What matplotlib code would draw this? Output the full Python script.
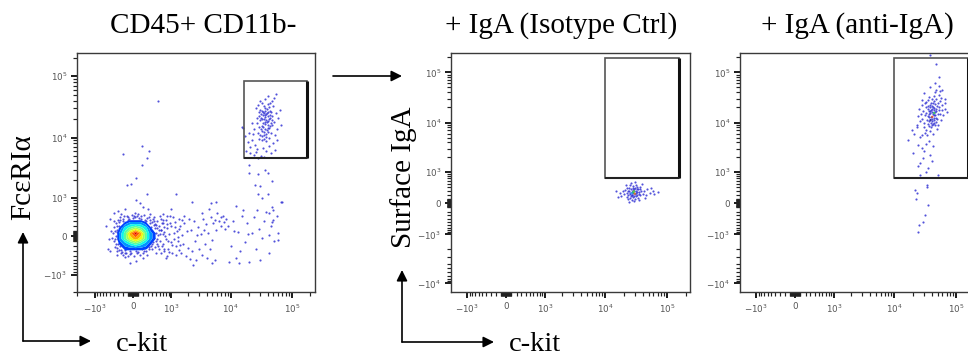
import matplotlib
matplotlib.use("Agg")
import matplotlib.pyplot as plt
import numpy as np
from matplotlib.patches import Rectangle, FancyArrowPatch

# ---------------------------------------------------------------- data
# Panel 1: CD45+ CD11b- cells, (c-kit, FceRIa) intensities
mast_p1 = [
    (31000, 21000), (36000, 18000), (40000, 16000), (33000, 13000), (38000, 24000),
    (42000, 20000), (29000, 15000), (35000, 11000), (45000, 17000), (37000, 14000),
    (34000, 26000), (30000, 19000), (41000, 12500), (39000, 29000), (32000, 10500),
    (44000, 23000), (36500, 16500), (28000, 12000), (47000, 19500), (33500, 17500),
    (40500, 22000), (35500, 9500), (31500, 24500), (43000, 14500), (38500, 11500),
    (30500, 28000), (46000, 26000), (34500, 20000), (27000, 17000), (42500, 31000),
    (37500, 19000), (32500, 15500), (39500, 13500), (36000, 27500), (29500, 22500),
    (44500, 15500), (41500, 18500), (33000, 9000), (48000, 22000), (35000, 32000),
    (38000, 8800), (31000, 13800), (43500, 27000), (26500, 20500), (40000, 35000),
    (36500, 23500), (30000, 11000), (45500, 12000), (34000, 14800), (39000, 17800),
    (28500, 26000), (42000, 9800), (37000, 30500), (32000, 19800), (47500, 16000),
    (35500, 25000), (41000, 26500), (29000, 9500), (44000, 20500), (33500, 23000),
    (24000, 14000), (52000, 18000), (22000, 9000), (55000, 25000), (25000, 7500),
    (50000, 33000), (23000, 11500), (58000, 14000), (21000, 7000), (26000, 5800),
    (19000, 8500), (48000, 40000), (30000, 40000), (53000, 11000), (27000, 6500),
    (20000, 12000), (60000, 21000), (18000, 6000), (34000, 6800), (42000, 7200),
    (46000, 5600), (24000, 5200), (31000, 5000), (38000, 6000), (17000, 10500),
    (63000, 28000), (22500, 17500), (51000, 44000), (37000, 42000), (28000, 34000),
    (57000, 9000), (66000, 16000), (20500, 5500), (44000, 36000), (40000, 48000),
    (49000, 8000), (25500, 30000), (33000, 36000), (54000, 6300), (35000, 4900),
    (28000, 4700), (16000, 14500), (56000, 51000), (15000, 15000), (36000, 21500),
    (39000, 25500), (34500, 12300), (37500, 10200), (41000, 14200), (32000, 27500),
]
trail_p1 = [
    (20000, 3500), (28000, 2500), (40000, 2600), (24600, 1640), (28000, 1150),
    (40000, 1150), (33000, 975), (43000, 485), (50000, 570), (47000, 272),
    (43000, 19), (59000, 56), (50000, 320), (68000, 820), (20000, 2600),
    (36000, 3000), (47000, 1900), (60000, -80), (30000, 1600),
]
sparse_p1 = [
    (545, 40000), (-195, 5400), (170, 7200), (270, 4700), (310, 6000),
    (170, 3500), (57, 2150), (-115, 1640), (-38, 1750), (270, 1150),
    (57, 900), (130, 790), (1215, 1150), (2300, 820), (4800, 790),
    (5800, 820), (12000, 680), (66000, 820),
]
tail_p1 = [
    (650, 250), (700, -150), (720, 80), (780, 320), (800, -60), (850, 150),
    (880, -250), (900, 30), (950, 420), (980, -120), (1000, 200), (1050, -330),
    (1100, 60), (1150, 280), (1200, -200), (1250, 100), (1300, -20), (1350, 350),
    (1400, -280), (620, -330), (680, 450), (760, 10), (830, -400), (940, 260),
    (1020, -180), (1180, 180), (1320, -90), (1420, 200), (1480, -350), (1550, 20),
    (1600, -150), (1700, 250), (1800, -420), (1900, 90), (2000, -230), (2100, -480),
    (2200, 120), (2300, -300), (2500, 300), (2600, -100), (2700, -520), (2900, 180),
    (3000, -260), (3200, 40), (3400, -380), (3500, 350), (3700, -150), (3900, 230),
    (4100, -450), (4300, 60), (4500, -260), (4700, 380), (5000, -80), (5200, 250),
    (5500, -520), (5800, 120), (6000, 480), (1650, 420), (2400, -650), (3300, 500),
    (4400, 600), (2800, 20), (3600, 110), (4900, -600), (2050, 350),
    (6500, 300), (7000, 200), (7500, 420), (8000, 130), (6800, 380), (7800, 280),
    (8500, 350), (9000, 190), (5600, 330),
    (10000, -200), (11000, 300), (12000, -450), (13000, 80), (14000, -300),
    (15500, 420), (17000, -120), (18500, 250), (20000, -560), (22000, 60),
    (24000, 380), (26000, -250), (29000, 140), (32000, -40), (35000, 300),
    (38000, 520), (42000, -350), (46000, 200), (52000, -100), (58000, 420),
    (9500, -580), (13500, -600), (16000, 560), (27000, 560), (48000, 650),
    (30000, -500), (19000, 30), (11500, 100),
    (620, 120), (700, 330), (740, -260), (820, 230), (870, -90), (920, -320),
    (1080, 380), (1130, -60), (1230, -380), (1380, 130), (1450, -180), (1520, 310),
]
halo_p1 = [
    (-420, 50), (-400, -100), (-380, 180), (-360, -220), (-350, 0), (-340, 260),
    (-330, -300), (-310, 120), (-300, -150), (-290, 330), (-280, -280), (-270, 40),
    (-250, 380), (-240, -350), (-220, 200), (-200, -380), (-180, 420), (-150, -330),
    (-120, 400), (-100, -400), (-80, 350), (-50, -360), (-20, 440), (10, -420),
    (40, 380), (70, -350), (100, 460), (130, -390), (160, 400), (190, -330),
    (220, 430), (250, -300), (280, 360), (310, -250), (340, 330), (370, -200),
    (390, 280), (410, -120), (430, 220), (450, -40), (470, 150), (490, 60),
    (510, -160), (520, 300), (540, 20), (560, -260), (580, 200), (600, -90),
    (620, 340), (640, 120), (660, -200), (680, 250), (700, 30), (-440, -30),
    (-460, 100), (-390, 300), (-320, -380), (-230, 450), (-150, -440), (30, 500),
    (200, -450), (350, 450), (450, 380), (480, -330), (600, 420), (720, -300),
    (740, 180), (-330, 80), (-300, -60), (-280, 200), (-250, -200), (-200, 300),
    (-160, -280), (-100, 330), (-60, -300), (0, 360), (60, -300), (120, 370),
    (180, -260), (240, 330), (300, -180), (350, 250), (400, 100), (420, -60),
    (450, 300), (380, -250), (330, 380), (-350, -150), (-260, 320), (-210, -320),
    (80, 420), (270, -380), (500, 220), (520, -60), (560, 120), (460, -220),
    (410, 350), (-600, 200), (-550, -250), (-500, 350), (-520, -50), (850, 400),
    (-480, -300), (-150, 600), (50, -550), (300, 600), (-300, 550), (200, 650),
    (-50, -600), (800, -450), (1000, 600), (-400, 500),
    (-370, 100), (-360, -60), (-320, 200), (-310, -240), (-270, 280), (-230, -270),
    (-190, 340), (-140, -350), (-90, 380), (-30, -330), (20, 400), (90, -320),
    (150, 350), (210, -300), (260, 300), (320, -220), (360, 180), (400, -150),
    (440, 60), (460, 240), (480, -100), (530, 150), (550, -200), (590, 40),
]
# binned event density of the main CD45+ CD11b- population near the origin
blob_kit = [-550, -450, -350, -250, -150, -50, 50, 150, 250, 350, 450, 550, 650, 750]
blob_fce = [-450, -350, -250, -150, -50, 50, 150, 250, 350, 450]
blob_density = [
    [0, 0, 0, 0, 0, 0, 0, 0, 0, 0, 0, 0, 0, 0],
    [0, 0, 0, 0, 1, 1, 1, 1, 0, 0, 0, 0, 0, 0],
    [0, 0, 0, 1, 2, 2, 2, 2, 2, 1, 0, 0, 0, 0],
    [0, 0, 1, 2, 3, 4, 5, 4, 3, 2, 1, 0, 0, 0],
    [0, 0, 1, 3, 5, 7, 8, 7, 5, 3, 2, 1, 0, 0],
    [0, 0, 1, 3, 5, 8, 10, 8, 5, 3, 2, 1, 0, 0],
    [0, 0, 1, 2, 4, 5, 6, 5, 4, 2, 1, 1, 0, 0],
    [0, 0, 0, 1, 2, 3, 3, 3, 2, 1, 1, 0, 0, 0],
    [0, 0, 0, 0, 1, 1, 1, 1, 1, 0, 0, 0, 0, 0],
    [0, 0, 0, 0, 0, 0, 0, 0, 0, 0, 0, 0, 0, 0],
]

# Panel 2: isotype control, (c-kit, surface IgA)
iso_p2 = [
    (25000, 250), (27000, 200), (29000, 300), (23000, 180), (31000, 230),
    (26000, 330), (28000, 150), (24000, 280), (30000, 380), (33000, 190),
    (22000, 240), (27500, 420), (35000, 260), (25500, 120), (29500, 170),
    (32000, 330), (21000, 320), (26500, 260), (30500, 100), (24500, 360),
    (28500, 240), (34000, 350), (23500, 90), (36000, 180), (20000, 210),
    (31500, 450), (27000, 60), (38000, 280), (19000, 280), (33500, 120),
    (25000, 470), (29000, 40), (40000, 220), (22500, 380), (37000, 400),
    (18000, 170), (42000, 300), (26000, 520), (35500, 80), (17000, 240),
    (45000, 200), (30000, 560), (48000, 330), (16000, 150), (52000, 250),
    (24000, 30), (39000, 480), (21500, 450), (44000, 120), (58000, 300),
    (62000, 210), (70000, 260), (15000, 300), (55000, 380), (32500, 260),
    (27800, 310), (26800, 190), (29800, 210), (24800, 220), (31200, 290),
    (28200, 360), (25800, 160), (23200, 300), (34500, 220), (30800, 160),
    (27200, 270), (29200, 330), (33000, 400), (22000, 130), (36500, 330),
]
iso_core_p2 = [(28000, 250), (30000, 220), (26500, 230), (29000, 280)]

# Panel 3: anti-IgA, (c-kit, surface IgA)
anti_p3 = [
    (40000, 12000), (43000, 14000), (37000, 10500), (45000, 16500), (39000, 18000),
    (42000, 9500), (35000, 13500), (47000, 12500), (41000, 21000), (38000, 15500),
    (44000, 11000), (36000, 17000), (48000, 19000), (40500, 8800), (46000, 23000),
    (34000, 11500), (43500, 17500), (39500, 13000), (50000, 14500), (37500, 20500),
    (41500, 15000), (45500, 9000), (33000, 15800), (42500, 25000), (38500, 10000),
    (49000, 21500), (36500, 12800), (44500, 19800), (40000, 16000), (35500, 9200),
    (47500, 16800), (39000, 24000), (43000, 12300), (37000, 14600), (46500, 10400),
    (41000, 18500), (34500, 18800), (52000, 17500), (38000, 22000), (44000, 27000),
    (40800, 10800), (36000, 8500), (48500, 12000), (42000, 20000), (39500, 8000),
    (45000, 14000), (35000, 21500), (50500, 24000), (43000, 9700), (37800, 17200),
    (30000, 10000), (32000, 20000), (55000, 15000), (31000, 14000), (53000, 20000),
    (29000, 17000), (56000, 11000), (33000, 26000), (54000, 27000), (28000, 12000),
    (58000, 18000), (35000, 28000), (47000, 30000), (30500, 8000), (60000, 22000),
    (27000, 15000), (51000, 9000), (40000, 30000), (25000, 19000), (62000, 14000),
    (36000, 32000), (49000, 7500), (26000, 10500), (57000, 31000), (33000, 7000),
    (44000, 34000), (24000, 13500), (65000, 19000), (31000, 24000), (52000, 35000),
    (38000, 6800), (42000, 6000), (28500, 22000), (66000, 25000), (23000, 9000),
    (70000, 16000), (27500, 28000), (46000, 40000), (34000, 5600), (48000, 45000),
    (16700, 4500), (23400, 8200), (20100, 2460), (28000, 3100), (26100, 1530),
    (29200, 1930), (37800, 2200), (24100, 1350), (35000, 1200), (26100, 830),
    (50000, 830), (31300, 6200), (26000, 5200), (33000, 3800), (21000, 6000),
    (30000, 2700), (36000, 4200), (24000, 3500), (40000, 1700), (28000, 5600),
    (19000, 7000), (32000, 1000), (42000, 3400),
    (23400, 237), (21600, 318), (33900, 464), (33900, 400), (22500, 92),
    (35000, -46), (31300, -288), (29200, -490), (25100, -596), (24100, -870),
    (37800, 222000), (47000, 147000), (52600, 81000), (52600, 53700), (37800, 51200),
    (66200, 29500), (45000, 60000), (55000, 42000), (30000, 38000), (60000, 45000),
]
anti_core_p3 = [(41000, 13000), (38500, 11200), (44000, 15500)]

# Gates: (c-kit low, c-kit high, marker low, marker high)
gate_p1 = (16500, 178000, 4600, 83000)
gate_p23 = (9900, 155000, 700, 193000)

titles = ["CD45+ CD11b-", "+ IgA (Isotype Ctrl)", "+ IgA (anti-IgA)"]

# ---------------------------------------------------------------- styling
W_PX, H_PX = 968, 356
LIN = 500           # linear width of the arcsinh display
SERIF = ["Liberation Serif", "DejaVu Serif"]
DOT = "#3434d4"

fig = plt.figure(figsize=(W_PX / 100, H_PX / 100), dpi=100)


def fx(px):
    return px / W_PX


def fy(py):
    return 1 - py / H_PX


def minor_positions(lo, hi):
    vals = []
    for m in range(1, 10):
        vals += [10 * m, -10 * m, 100 * m, -100 * m]
    for d in (1000, 10000, 100000):
        for m in range(2, 10):
            vals += [m * d, -m * d]
    return sorted(v for v in vals if lo <= v <= hi)


def label_for(v):
    if v == 0:
        return "0"
    e = int(round(np.log10(abs(v))))
    return ("$-10^{%d}$" if v < 0 else "$10^{%d}$") % e


def style_axes(ax, xlim, ylim, ymajor):
    ax.set_xscale("asinh", linear_width=LIN)
    ax.set_yscale("asinh", linear_width=LIN)
    ax.set_xlim(*xlim)
    ax.set_ylim(*ylim)
    xmajor = [-1000, 0, 1000, 10000, 100000]
    ax.set_xticks(xmajor)
    ax.set_xticklabels([label_for(v) for v in xmajor])
    ax.set_yticks(ymajor)
    ax.set_yticklabels([label_for(v) for v in ymajor])
    ax.set_xticks(minor_positions(*xlim), minor=True)
    ax.set_yticks(minor_positions(*ylim), minor=True)
    ax.tick_params(which="major", direction="out", length=4.0, width=1.4,
                   color="#1a1a1a", labelsize=6.3, labelcolor="#555555", pad=3)
    ax.tick_params(which="minor", direction="out", length=2.8, width=0.85,
                   color="#222222")
    ax.tick_params(axis="x", which="major", pad=3.5)
    for s in ax.spines.values():
        s.set_color("#3a3a3a")
        s.set_linewidth(1.0)


def draw_gate(ax, g):
    x0, x1, y0, y1 = g
    ax.add_patch(Rectangle((x0, y0), x1 - x0, y1 - y0, fill=False,
                           edgecolor="#555555", lw=1.2, zorder=5))
    ax.plot([x1, x1], [y0, y1], color="#111111", lw=2.2, zorder=6,
            solid_capstyle="butt")
    ax.plot([x0, x1], [y0, y0], color="#222222", lw=1.5, zorder=6,
            solid_capstyle="butt")


def dots(ax, pts, color=DOT, s=2.4, alpha=0.85, z=3):
    xs = [p[0] for p in pts]
    ys = [p[1] for p in pts]
    ax.scatter(xs, ys, s=s, c=color, linewidths=0, alpha=alpha, zorder=z)


# ---------------------------------------------------------------- panel 1
ax1 = fig.add_axes([fx(77), fy(292), 238 / W_PX, 239 / H_PX])
style_axes(ax1, (-2035, 240000), (-2000, 237000), [-1000, 0, 1000, 10000, 100000])
dots(ax1, halo_p1)
dots(ax1, tail_p1)
dots(ax1, sparse_p1)
dots(ax1, trail_p1)
dots(ax1, mast_p1)
levels = [1.7, 2.5, 3.5, 4.5, 5.5, 6.5, 7.5, 8.5, 9.5, 11]
ax1.contourf(blob_kit, blob_fce, blob_density, levels=levels, cmap="jet",
             vmin=0, vmax=11, zorder=4, antialiased=True)
draw_gate(ax1, gate_p1)

# ---------------------------------------------------------------- panel 2
ax2 = fig.add_axes([fx(451), fy(292), 239 / W_PX, 239 / H_PX])
ymaj23 = [-10000, -1000, 0, 1000, 10000, 100000]
style_axes(ax2, (-1900, 233000), (-14800, 243000), ymaj23)
dots(ax2, iso_p2)
dots(ax2, iso_core_p2, color=["#20c060", "#e07020", "#30a0ff", "#60d040"], s=3, alpha=0.9, z=4)
draw_gate(ax2, gate_p23)

# ---------------------------------------------------------------- panel 3
ax3 = fig.add_axes([fx(740), fy(292), 239 / W_PX, 239 / H_PX])
style_axes(ax3, (-1900, 233000), (-14800, 243000), ymaj23)
dots(ax3, anti_p3)
dots(ax3, anti_core_p3, color=["#e05030", "#2020a0", "#30c060"], s=3, alpha=0.9, z=4)
draw_gate(ax3, gate_p23)

# ---------------------------------------------------------------- text
title_x = [203, 561, 857]
for t, x in zip(titles, title_x):
    fig.text(fx(x), fy(33), t, ha="center", va="baseline", fontsize=21,
             family=SERIF)

fig.text(fx(23), fy(177), "FcεRIα", rotation=90, ha="center", va="center",
         fontsize=21, family=SERIF)
fig.text(fx(404), fy(177), "Surface IgA", rotation=90, ha="center",
         va="center", fontsize=21, family=SERIF)
fig.text(fx(142), fy(351), "c-kit", ha="center", va="baseline", fontsize=20.5,
         family=SERIF)
fig.text(fx(535), fy(351), "c-kit", ha="center", va="baseline", fontsize=20.5,
         family=SERIF)


def arrow(p0, p1):
    fig.add_artist(FancyArrowPatch((fx(p0[0]), fy(p0[1])), (fx(p1[0]), fy(p1[1])),
                                   transform=fig.transFigure, arrowstyle="-|>",
                                   mutation_scale=16, lw=1.2, color="black",
                                   shrinkA=0, shrinkB=0))


arrow((23, 341), (23, 232))
arrow((23, 341), (91, 341))
arrow((402, 342), (402, 270))
arrow((402, 342), (494, 342))
arrow((333, 76), (402, 76))

fig.savefig("out.png", dpi=100)
